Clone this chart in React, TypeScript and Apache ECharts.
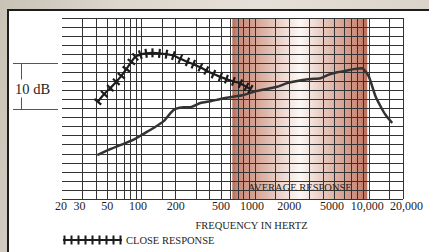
import React, { useEffect, useRef } from 'react';
import * as echarts from 'echarts';

// ---- data (frequency in Hz, level in dB on a 0..40 dB frame) ----
const closeFreq = [41.3, 47.1, 53.2, 60.1, 66.5, 73.6, 81.5, 88.3, 97.7, 110, 125, 144, 166, 191, 220, 254, 286, 330, 372, 430, 495, 559, 644, 743, 838, 909];
const closeDb = [21.5, 23.2, 24.5, 25.9, 27.2, 28.7, 30.3, 31.4, 31.9, 32.2, 32.3, 32.2, 32.0, 31.7, 31.0, 30.3, 29.8, 29.1, 28.4, 27.6, 27.0, 26.5, 26.0, 25.5, 24.8, 24.3];

const avgFreq = [40.9, 53.2, 69.7, 85.3, 104.5, 128, 157, 180, 199, 235, 269, 330, 404, 495, 607, 794, 973, 1191, 1563, 1914, 2344, 3069, 3758, 4448, 5273, 6456, 7383, 8750, 9355, 10000, 10715, 11455, 12680, 14030, 16070];
const avgDb = [9.7, 11.0, 12.2, 13.1, 14.4, 15.7, 17.2, 19.0, 19.9, 20.3, 20.3, 21.2, 21.6, 22.1, 22.5, 23.0, 23.7, 24.2, 24.8, 25.6, 26.1, 26.5, 26.7, 27.5, 28.0, 28.4, 28.7, 28.9, 28.2, 27.1, 24.9, 22.7, 20.5, 18.6, 16.8];

const gridFreq = [20, 30, 40, 50, 60, 70, 80, 90, 100, 150, 200, 300, 400, 500, 600, 700, 800, 900, 1000, 1500, 2000, 3000, 4000, 5000, 6000, 7000, 8000, 9000, 10000, 15000, 20000];
const tickFreq = [20, 30, 50, 100, 200, 500, 1000, 2000, 5000, 10000, 20000];
const tickLabels = ['20', '30', '50', '100', '200', '500', '1000', '2000', '5000', '10,000', '20,000'];
const bandFreq = [630, 9700];
const dbRange = [0, 40];
const dbStep = 2;
const bracketDb = [20, 30];

// small horizontal nudges of the printed tick labels (px), as typeset in the original
const labelNudge = [-1, -2.5, 0, -3.5, 0, 0, -3, 0, -2.7, -1.5, 3.4];

const FONT = "'Liberation Serif', 'Times New Roman', 'DejaVu Serif', serif";
const lg = (f: number) => Math.log10(f);

export default function App() {
  const ref = useRef<HTMLDivElement>(null);

  useEffect(() => {
    if (!ref.current) return;
    const chart = echarts.init(ref.current, undefined, { renderer: 'svg' });
    const tickPath = (() => {
      let d = 'M0,3.6 L59,3.6 L59,5.4 L0,5.4 Z';
      for (let i = 0; i < 9; i++) {
        const x = 0.5 + i * 7;
        d += ` M${x},0 L${x + 2},0 L${x + 2},9 L${x},9 Z`;
      }
      return 'path://' + d;
    })();

    const rich: any = {};
    labelNudge.forEach((n, i) => {
      const p = Math.abs(n) * 2;
      rich['o' + i] = {
        fontSize: 12,
        fontFamily: FONT,
        color: '#1e1e1e',
        padding: n >= 0 ? [0, 0, 0, p] : [0, p, 0, 0],
      };
    });

    let rot: number[] = closeFreq.map(() => 0);

    const option: any = {
      animation: false,
      backgroundColor: 'transparent',
      grid: { left: 62, top: 18, width: 341, height: 181, containLabel: false, outerBoundsMode: 'none' },
      xAxis: {
        type: 'value',
        min: lg(20),
        max: lg(20000),
        axisLine: { show: false },
        axisTick: { show: false },
        splitLine: { show: false },
        axisLabel: {
          customValues: tickFreq.map(lg),
          formatter: (v: number) => {
            const i = tickFreq.findIndex((f) => Math.abs(lg(f) - v) < 1e-6);
            return i >= 0 ? `{o${i}|${tickLabels[i]}}` : '';
          },
          rich,
          margin: 1,
          fontSize: 12,
          fontFamily: FONT,
          color: '#1e1e1e',
          showMinLabel: true,
          showMaxLabel: true,
          hideOverlap: false,
        },
      },
      yAxis: {
        type: 'value',
        min: dbRange[0],
        max: dbRange[1],
        interval: dbStep,
        axisLabel: { show: false },
        axisLine: { show: false },
        axisTick: { show: false },
        splitLine: { show: true, lineStyle: { color: '#333', width: 1 } },
      },
      legend: {
        data: ['CLOSE RESPONSE'],
        left: 63,
        top: 234.5,
        itemWidth: 59,
        itemHeight: 9,
        icon: tickPath,
        selectedMode: false,
        padding: 0,
        textStyle: { fontSize: 10.5, fontFamily: FONT, color: '#1e1e1e', padding: [0, 0, 0, -1] },
      },
      series: [
        {
          id: 'avg',
          name: 'AVERAGE RESPONSE',
          type: 'line',
          z: 3,
          silent: true,
          symbol: 'none',
          smooth: 0.2,
          lineStyle: { color: '#333', width: 2.5 },
          data: avgFreq.map((f, i) => [lg(f), avgDb[i]]),
          markArea: {
            silent: true,
            z: -1,
            itemStyle: {
              color: new echarts.graphic.LinearGradient(0, 0, 1, 0, [
                { offset: 0, color: '#b76d5c' },
                { offset: 0.04, color: '#c98a7a' },
                { offset: 0.18, color: '#d6a596' },
                { offset: 0.5, color: '#fcf8f5' },
                { offset: 0.8, color: '#d8a899' },
                { offset: 0.95, color: '#c88675' },
                { offset: 1, color: '#b76d5c' },
              ]),
            },
            label: {
              show: true,
              position: 'insideBottom',
              distance: 6,
              formatter: 'AVERAGE RESPONSE',
              fontSize: 10.5,
              fontFamily: FONT,
              color: '#1e1e1e',
            },
            data: [[{ xAxis: lg(bandFreq[0]) }, { xAxis: lg(bandFreq[1]) }]],
          },
        },
        {
          id: 'close',
          name: 'CLOSE RESPONSE',
          type: 'line',
          z: 3,
          silent: true,
          symbol: 'rect',
          symbolSize: [2.2, 9],
          symbolRotate: (_v: any, params: any) => rot[params.dataIndex] || 0,
          showAllSymbol: true,
          smooth: 0.3,
          itemStyle: { color: '#1c1c1c' },
          lineStyle: { color: '#1c1c1c', width: 2.2 },
          data: closeFreq.map((f, i) => [lg(f), closeDb[i]]),
          markLine: {
            silent: true,
            z: 1,
            symbol: ['none', 'none'],
            label: { show: false },
            lineStyle: { color: '#333', width: 1, type: 'solid' },
            data: gridFreq.map((f) => ({ xAxis: lg(f) })),
          },
        },
      ],
    };
    chart.setOption(option);

    // second pass: tick rotations perpendicular to the curve, and bracket from axis scale
    const pts = closeFreq.map((f, i) => chart.convertToPixel({ gridIndex: 0 }, [lg(f), closeDb[i]]) as number[]);
    rot = pts.map((p, i) => {
      const a = pts[Math.max(0, i - 1)];
      const b = pts[Math.min(pts.length - 1, i + 1)];
      return (Math.atan2(-(b[1] - a[1]), b[0] - a[0]) * 180) / Math.PI;
    });
    const yTop = Math.round(chart.convertToPixel({ yAxisIndex: 0 }, bracketDb[1]) as number) + 0.5;
    const yBot = Math.round(chart.convertToPixel({ yAxisIndex: 0 }, bracketDb[0]) as number) + 0.5;
    const mid = (yTop + yBot) / 2;
    const lineStyle = { stroke: '#555', lineWidth: 1 };
    chart.setOption({
      series: [
        {
          id: 'close',
          symbolRotate: (_v: any, params: any) => rot[params.dataIndex] || 0,
          data: closeFreq.map((f, i) => ({ value: [lg(f), closeDb[i]], symbolRotate: rot[i] })),
        },
      ],
      graphic: [
        { id: 'b1', type: 'line', silent: true, shape: { x1: 13, y1: yTop, x2: 58, y2: yTop }, style: lineStyle },
        { id: 'b2', type: 'line', silent: true, shape: { x1: 13, y1: yBot, x2: 58, y2: yBot }, style: lineStyle },
        { id: 'b3', type: 'line', silent: true, shape: { x1: 21.5, y1: yTop, x2: 21.5, y2: mid - 7 }, style: lineStyle },
        { id: 'b4', type: 'line', silent: true, shape: { x1: 21.5, y1: mid + 11, x2: 21.5, y2: yBot }, style: lineStyle },
        {
          id: 't1',
          type: 'text',
          silent: true,
          x: 15,
          y: mid + 2,
          style: {
            text: '10 dB',
            fill: '#1e1e1e',
            fontSize: 14.5,
            fontFamily: FONT,
            align: 'left',
            verticalAlign: 'middle',
            textAlign: 'left',
            textVerticalAlign: 'middle',
          },
        },
        {
          id: 't2',
          type: 'text',
          silent: true,
          x: 251.5,
          y: 225.5,
          style: {
            text: 'FREQUENCY IN HERTZ',
            fill: '#1e1e1e',
            fontSize: 10.5,
            fontFamily: FONT,
            align: 'center',
            verticalAlign: 'middle',
            textAlign: 'center',
            textVerticalAlign: 'middle',
          },
        },
      ],
    });

    return () => chart.dispose();
  }, []);

  return (
    <div
      style={{
        position: 'fixed',
        left: 0,
        top: 0,
        width: 429,
        height: 252,
        overflow: 'hidden',
        background: 'linear-gradient(100deg, #c9c2b7 0%, #dcd6cc 25%, #e6e1d8 55%, #d6d0c6 100%)',
      }}
    >
      <div
        style={{
          position: 'absolute',
          left: 7,
          top: 9,
          width: 440,
          height: 260,
          background: '#ffffff',
          borderLeft: '2.5px solid #1e1e1e',
          borderTop: '2.5px solid #1e1e1e',
          boxSizing: 'border-box',
        }}
      />
      <div ref={ref} style={{ position: 'absolute', left: 0, top: 0, width: 429, height: 252 }} />
    </div>
  );
}
